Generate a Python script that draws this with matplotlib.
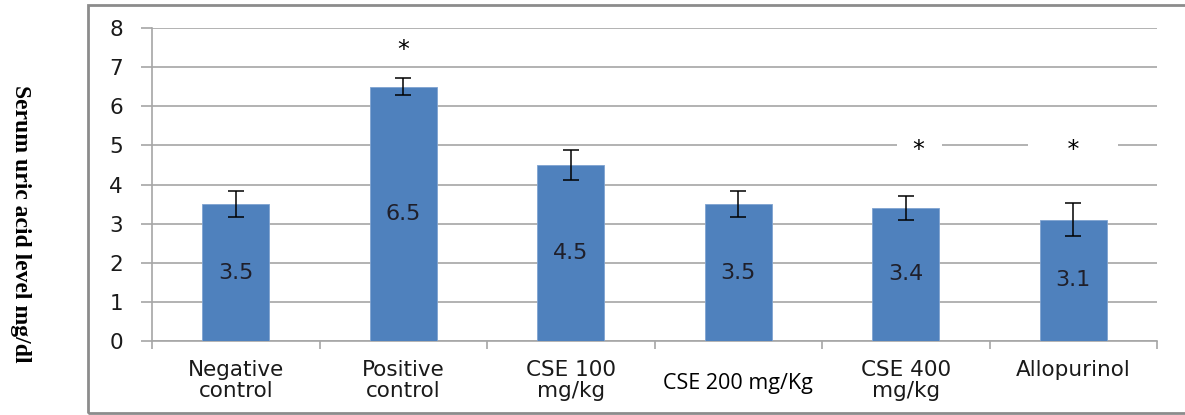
import numpy as np
import matplotlib.pyplot as plt
from matplotlib.patches import Rectangle
from matplotlib.transforms import ScaledTranslation

groups = ['Negative\ncontrol', 'Positive\ncontrol', 'CSE 100\nmg/kg',
          'CSE 200 mg/Kg', 'CSE 400\nmg/kg', 'Allopurinol']
uric_acid = [3.5, 6.5, 4.5, 3.5, 3.4, 3.1]
err = [0.34, 0.22, 0.38, 0.34, 0.30, 0.42]
star_groups = [1, 4, 5]
star_level = [7.45, 4.88, 4.88]

bar_color = '#4F81BD'
grid_color = '#A6A6A6'

fig = plt.figure(figsize=(11.85, 4.15), dpi=100)
ax = fig.add_axes([0.1283, 0.1783, 0.9764 - 0.1283, 0.9325 - 0.1783])

# outer chart frame (right edge runs off the picture)
fig.patches.append(Rectangle((88 / 1185, 2 / 415), 1.2, 408 / 415, transform=fig.transFigure,
                             fill=False, edgecolor='#8C8C8C', linewidth=2, clip_on=False))

x = np.arange(len(groups))
ax.bar(x, uric_acid, width=0.4, color=bar_color, edgecolor='#7FA3D0', linewidth=0.6, zorder=3)
ax.errorbar(x, uric_acid, yerr=err, fmt='none', ecolor='black', elinewidth=1.1,
            capsize=6, capthick=1.1, zorder=4)

for xi, v in zip(x, uric_acid):
    ax.text(xi, v / 2, str(v), ha='center', va='center', fontsize=16,
            color='#1F1F2A', zorder=5)

# significance marks
pads = ['', '  ', '     ']
for g, lvl, p in zip(star_groups, star_level, pads):
    xs = g + (0.08 if g == 4 else 0)
    ax.text(xs, lvl, p + '*' + p, ha='center', va='center', fontsize=17,
            color='black', zorder=6,
            bbox=dict(facecolor='white', edgecolor='none', pad=1))

ax.set_ylim(0, 8)
ax.set_xlim(-0.5, 5.5)
ax.set_yticks(range(0, 9))
ax.yaxis.grid(True, color=grid_color, linewidth=1.2, zorder=0)
ax.set_axisbelow(True)

ax.set_xticks(x)
ax.set_xticklabels(groups, fontsize=15.5, color='#1A1A1A', linespacing=1.05)
ax.set_xticks(np.arange(-0.5, 6.0, 1.0), minor=True)
ax.tick_params(axis='x', which='major', length=0, pad=14)
ax.tick_params(axis='x', which='minor', length=6, width=1.2, color=grid_color)
ax.tick_params(axis='y', length=8, width=1.2, color=grid_color, labelsize=15.5,
               labelcolor='#1A1A1A', pad=13)

lbl = ax.get_xticklabels()[3]
lbl.set_fontfamily('Open Sans')
lbl.set_fontsize(15.5)
lbl.set_color('black')
lbl.set_transform(lbl.get_transform() + ScaledTranslation(0, -9 / 72, fig.dpi_scale_trans))

for side in ['top', 'right']:
    ax.spines[side].set_visible(False)
for side in ['left', 'bottom']:
    ax.spines[side].set_color(grid_color)
    ax.spines[side].set_linewidth(1.2)

fig.text(20 / 1185, 1 - 224 / 415, 'Serum uric acid level mg/dl', rotation=-90,
         ha='center', va='center', fontsize=17, fontweight='bold',
         family='Liberation Serif')

fig.savefig('out.png', dpi=100)
